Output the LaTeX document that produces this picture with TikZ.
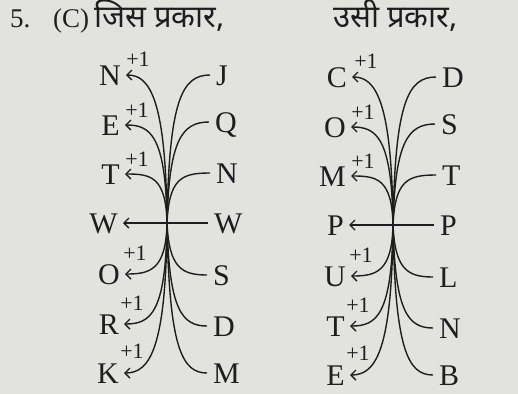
\documentclass[tikz,border=0pt]{standalone}
\usepackage{fontspec}
\setmainfont{Liberation Serif}
\newfontfamily\deva[Script=Devanagari]{Noto Sans}
\usetikzlibrary{arrows.meta}
\definecolor{ink}{RGB}{30,30,30}
\definecolor{paper}{RGB}{226,226,223}
\tikzset{
 lettL/.style={anchor=east,inner xsep=5pt,inner ysep=0pt,text height=20pt,text depth=0pt,font=\fontsize{30}{30}\selectfont,text=ink},
 lettR/.style={anchor=west,inner xsep=6pt,inner ysep=0pt,text height=20pt,text depth=0pt,font=\fontsize{30}{30}\selectfont,text=ink},
 plusone/.style={font=\fontsize{22}{22}\selectfont,text=ink,inner sep=0pt},
 curve/.style={draw=ink,line width=1.4pt},
 arr/.style={curve,-{Straight Barb[length=5pt,width=10pt]}},
 head/.style={anchor=base west,inner sep=0pt,text=ink,font=\fontsize{27}{27}\selectfont},
 headdeva/.style={anchor=base west,inner sep=0pt,text=ink,font=\deva\fontsize{31}{31}\selectfont}
}
\newcommand\mypanel[7]{%
 \begin{scope}[xshift=#2,yshift=#7]
 \coordinate (#1s) at (167,223);
 \node[lettL] (#1Lm) at (123,223) {#5};
 \node[lettR] (#1Rm) at (208,223) {#6};
 \draw[arr] (#1Rm.west) -- (#1Lm.east);
 \foreach \l/\y/\tx/\px/\py/\cy [count=\i] in {#3} {
   \node[lettL] (#1L\i) at (\tx,\y) {\l};
   \node[plusone] (#1P\i) at (\px,\py) {+1};
   \draw[arr] (#1s) .. controls (166,\cy) and (150,\y) .. (#1L\i.east);
 }
 \foreach \l/\y/\ex/\cy [count=\i] in {#4} {
   \node[lettR] (#1R\i) at (\ex,\y) {\l};
   \draw[curve] (#1s) .. controls (169,\cy) and (182,\y) .. (#1R\i.west);
 }
 \end{scope}}
\begin{document}
\begin{tikzpicture}[x=1pt,y=-1pt]
\useasboundingbox (0,0) rectangle (518,394);
\fill[paper] (0,0) rectangle (518,394);
\node[head] (h1) at (10,27) {5.};
\node[head] (h2) at (53,27) {(C)};
\node[headdeva] (h3) at (94,27) {जिस प्रकार,};
\node[headdeva] (h4) at (333,27) {उसी प्रकार,};
\mypanel{a}{0pt}{N/75/126/138/59/100,E/125/125/137/110/135,T/174/125/137/159/176,O/274/125/135/253/270,R/324/124/132/303/314,K/373/124/132/351/348}{J/75/210/100,Q/122/209/140,N/173/210/178,S/275/207/268,D/326/207/310,M/373/207/348}{W}{W}{0pt}
\mypanel{b}{226pt}{C/75/126/140/59/100,O/125/125/137/110/135,M/174/125/137/159/176,U/274/125/135/253/270,T/324/124/132/303/314,E/373/124/132/351/348}{D/75/210/100,S/122/209/140,T/173/210/178,L/275/207/268,N/326/207/310,B/373/207/348}{P}{P}{-2pt}
\end{tikzpicture}
\end{document}
